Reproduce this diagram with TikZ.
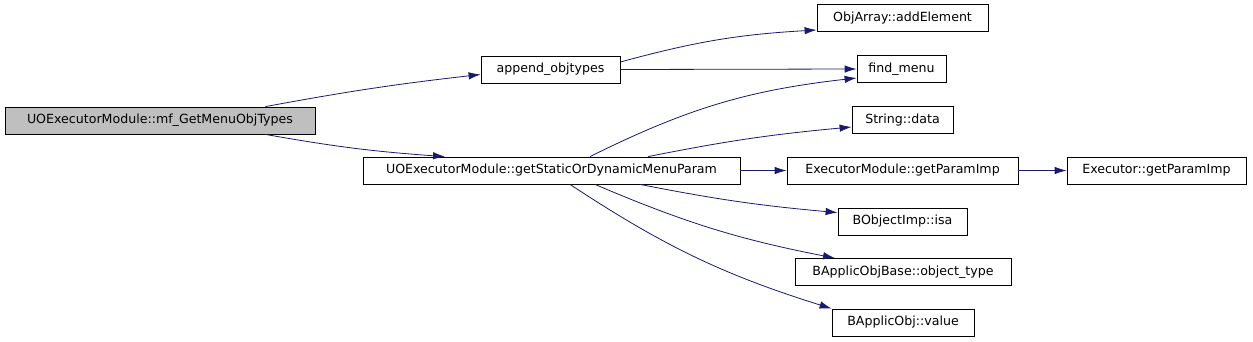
\documentclass[tikz,border=0pt]{standalone}
\usepackage{fontspec}
\setmainfont{DejaVu Sans}
\usetikzlibrary{arrows.meta, positioning, calc}
\definecolor{edgeblue}{HTML}{191970}
\definecolor{rootgray}{HTML}{BFBFBF}
\tikzset{
    func/.style={rectangle, draw, fill=white, minimum height=27pt, inner sep=0pt, font=\fontsize{12.6}{14}\selectfont, line width=0.8pt},
    rootfunc/.style={func, fill=rootgray},
    call/.style={draw=edgeblue, line width=0.8pt, -{Latex[length=12pt,width=7.5pt]}}
}
\begin{document}
\begin{tikzpicture}[x=1pt, y=-1pt]
    \useasboundingbox (0,0) rectangle (1253,341);
    \node[rootfunc, minimum width=310pt] (mf) at (160,120.5) {UOExecutorModule::mf\_GetMenuObjTypes};
    \node[func, minimum width=139pt] (append) at (550.5,69.5) {append\_objtypes};
    \node[func, minimum width=377pt] (getparam) at (551.5,170.5) {UOExecutorModule::getStaticOrDynamicMenuParam};
    \node[func, minimum width=171pt] (addelem) at (902.5,18) {ObjArray::addElement};
    \node[func, minimum width=89pt] (findmenu) at (901.5,69) {find\_menu};
    \node[func, minimum width=101pt] (strdata) at (902.5,120) {String::data};
    \node[func, minimum width=231pt] (modparam) at (902.5,170.5) {ExecutorModule::getParamImp};
    \node[func, minimum width=179pt] (execparam) at (1156.5,170.5) {Executor::getParamImp};
    \node[func, minimum width=129pt] (isa) at (902.5,221.5) {BObjectImp::isa};
    \node[func, minimum width=216pt] (objtype) at (903,272) {BApplicObjBase::object\_type};
    \node[func, minimum width=142pt] (value) at (903,322.5) {BApplicObj::value};

    \draw[call] ([xshift=-50pt]mf.north east) to[bend left=2] ([yshift=-5pt]append.west);
    \draw[call] ([xshift=-50pt]mf.south east) to[bend right=3] ([xshift=-106.5pt]getparam.north);
    \draw[call] ([yshift=7.5pt]append.east) to[bend left=6] ([yshift=-12pt]addelem.west);
    \draw[call] (append.east) -- (findmenu.west);
    \draw[call] ([xshift=38.5pt]getparam.north) to[bend left=10] ([yshift=-9pt]findmenu.west);
    \draw[call] ([xshift=96.5pt]getparam.north) to[bend left=3] ([yshift=-7pt]strdata.west);
    \draw[call] (getparam.east) -- (modparam.west);
    \draw[call] (modparam.east) -- (execparam.west);
    \draw[call] ([xshift=88.5pt]getparam.south) to[bend right=3] ([yshift=-5pt]isa.north west);
    \draw[call] ([xshift=43.5pt]getparam.south) to[bend right=6] ([xshift=-68pt]objtype.north);
    \draw[call] ([xshift=18.5pt]getparam.south) to[bend right=8] (value.north west);
\end{tikzpicture}
\end{document}
